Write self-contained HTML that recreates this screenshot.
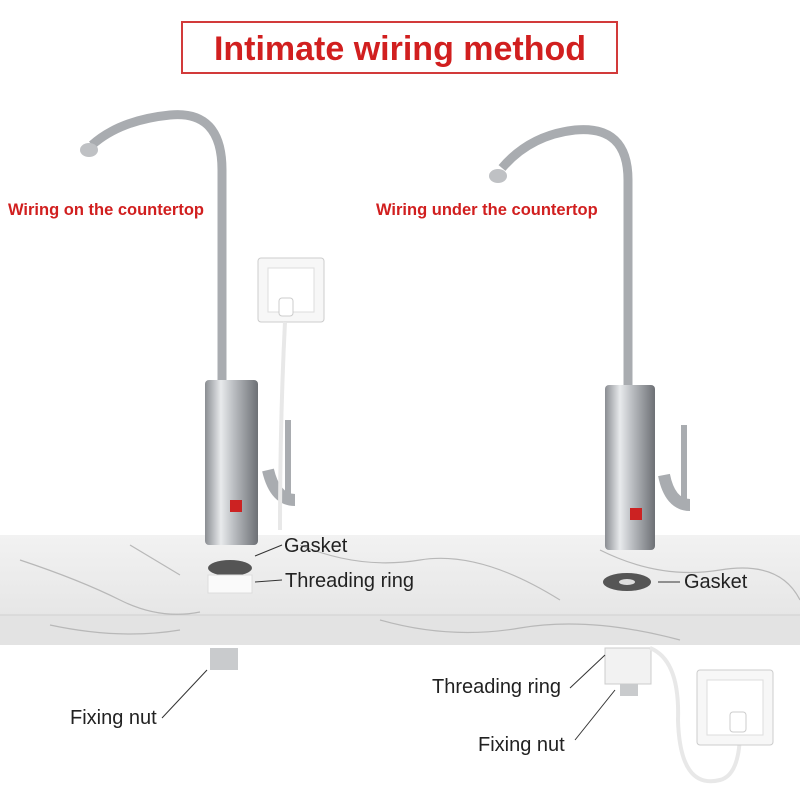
<!DOCTYPE html>
<html><head><meta charset="utf-8"><style>
html,body{margin:0;padding:0;background:#fff;}
svg{display:block;font-family:"Liberation Sans",sans-serif;}
</style></head><body>
<svg width="800" height="800" viewBox="0 0 800 800" xmlns="http://www.w3.org/2000/svg">
<defs>
<linearGradient id="steel" x1="0" x2="1" y1="0" y2="0">
<stop offset="0" stop-color="#8a8d92"/><stop offset="0.3" stop-color="#e8eaec"/><stop offset="0.55" stop-color="#b9bcc0"/><stop offset="1" stop-color="#6d7075"/>
</linearGradient>
<linearGradient id="marble" x1="0" x2="0" y1="0" y2="1">
<stop offset="0" stop-color="#f2f2f2"/><stop offset="1" stop-color="#e6e6e6"/>
</linearGradient>
</defs>
<rect width="800" height="800" fill="#fff"/>
<rect x="182" y="22" width="435" height="51" fill="none" stroke="#d23a3a" stroke-width="2"/>
<text x="400" y="60" text-anchor="middle" font-size="34" font-weight="bold" fill="#d11f1f">Intimate wiring method</text>
<text x="8" y="215" font-size="16.5" font-weight="bold" fill="#d11f1f">Wiring on the countertop</text>
<text x="376" y="215" font-size="16.5" font-weight="bold" fill="#d11f1f">Wiring under the countertop</text>

<rect x="0" y="535" width="800" height="82" fill="url(#marble)"/>
<rect x="0" y="615" width="800" height="30" fill="#e3e3e3"/>
<line x1="0" y1="615" x2="800" y2="615" stroke="#d0d0d0"/>
<g stroke="#b8b8b8" fill="none" stroke-width="1.2">
<path d="M20 560 Q80 580 120 600 T200 612"/><path d="M300 545 Q360 570 420 560 T560 600"/>
<path d="M600 550 Q660 580 720 570 T800 600"/><path d="M50 625 Q120 640 180 630"/>
<path d="M380 620 Q450 640 520 628 T680 640"/><path d="M130 545 L180 575"/>
</g>

<!-- faucet 1 -->
<path d="M222 385 L222 170 Q222 110 170 115 Q120 120 92 145" fill="none" stroke="#a9acb0" stroke-width="9"/>
<ellipse cx="89" cy="150" rx="9" ry="7" fill="#bfc1c4"/>
<path d="M295 500 Q275 500 268 470" fill="none" stroke="#a9acb0" stroke-width="12"/>
<line x1="288" y1="420" x2="288" y2="498" stroke="#a9acb0" stroke-width="6"/>
<rect x="205" y="380" width="53" height="165" rx="4" fill="url(#steel)"/>
<rect x="230" y="500" width="12" height="12" fill="#c22"/>
<rect x="258" y="258" width="66" height="64" rx="3" fill="#f7f7f7" stroke="#ccc"/>
<rect x="268" y="268" width="46" height="44" fill="#fff" stroke="#ddd"/>
<path d="M285 322 Q280 420 280 530" fill="none" stroke="#e8e8e8" stroke-width="4"/>
<rect x="279" y="298" width="14" height="18" rx="3" fill="#fff" stroke="#ccc"/>
<ellipse cx="230" cy="568" rx="22" ry="8" fill="#555"/>
<rect x="208" y="575" width="44" height="18" fill="#fafafa" stroke="#ddd"/>
<rect x="210" y="648" width="28" height="22" fill="#c9cbcd"/>
<line x1="162" y1="718" x2="207" y2="670" stroke="#333"/>
<line x1="255" y1="556" x2="282" y2="545" stroke="#333"/>
<line x1="255" y1="582" x2="282" y2="580" stroke="#333"/>

<!-- faucet 2 -->
<path d="M628 390 L628 180 Q628 125 575 130 Q530 135 502 168" fill="none" stroke="#a9acb0" stroke-width="9"/>
<ellipse cx="498" cy="176" rx="9" ry="7" fill="#bfc1c4"/>
<path d="M690 505 Q670 505 664 475" fill="none" stroke="#a9acb0" stroke-width="12"/>
<line x1="684" y1="425" x2="684" y2="503" stroke="#a9acb0" stroke-width="6"/>
<rect x="605" y="385" width="50" height="165" rx="4" fill="url(#steel)"/>
<rect x="630" y="508" width="12" height="12" fill="#c22"/>
<ellipse cx="627" cy="582" rx="24" ry="9" fill="#555"/>
<ellipse cx="627" cy="582" rx="8" ry="3" fill="#ddd"/>
<rect x="605" y="648" width="46" height="36" fill="#f2f2f2" stroke="#ccc"/>
<rect x="620" y="684" width="18" height="12" fill="#c9cbcd"/>
<path d="M650 648 Q680 660 678 720 Q680 790 720 780 Q740 775 740 730" fill="none" stroke="#e8e8e8" stroke-width="4"/>
<rect x="697" y="670" width="76" height="75" rx="3" fill="#f7f7f7" stroke="#ccc"/>
<rect x="707" y="680" width="56" height="55" fill="#fff" stroke="#ddd"/>
<rect x="730" y="712" width="16" height="20" rx="3" fill="#fff" stroke="#ccc"/>
<line x1="658" y1="582" x2="680" y2="582" stroke="#333"/>
<line x1="570" y1="688" x2="605" y2="655" stroke="#333"/>
<line x1="575" y1="740" x2="615" y2="690" stroke="#333"/>

<g font-size="20" fill="#222">
<text x="284" y="552">Gasket</text>
<text x="285" y="587">Threading ring</text>
<text x="684" y="588">Gasket</text>
<text x="70" y="724">Fixing nut</text>
<text x="432" y="693">Threading ring</text>
<text x="478" y="751">Fixing nut</text>
</g>
</svg>
</body></html>
